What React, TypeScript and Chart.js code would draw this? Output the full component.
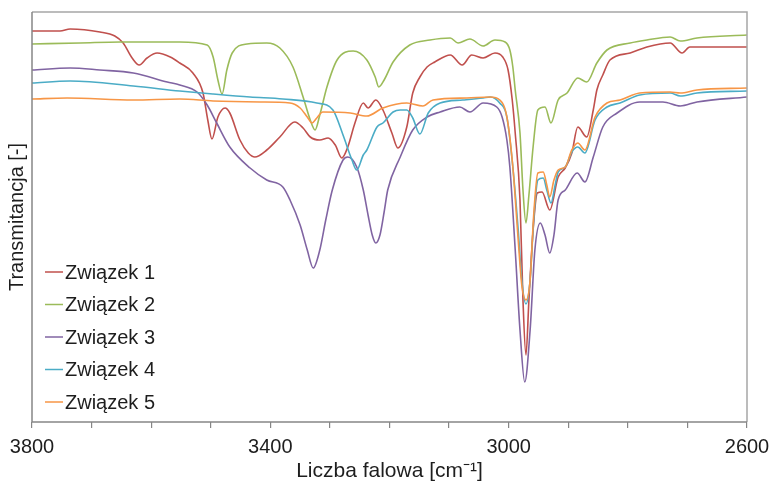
import React, { useEffect, useRef } from "react";
import { Chart, registerables } from "chart.js";

Chart.register(...registerables);

// ---- Data (wavenumber in cm-1, transmittance in arbitrary units) ----
const SERIES_NAMES = ["Związek 1", "Związek 2", "Związek 3", "Związek 4", "Związek 5"];
const SERIES_COLORS = ["#C0504D", "#9BBB59", "#8064A2", "#4BACC6", "#F79646"];

const WN_1 = [3800, 3753, 3736, 3686, 3661, 3647, 3632, 3620, 3607, 3590, 3568, 3552, 3530, 3513, 3505, 3498, 3488, 3476, 3468, 3451, 3437, 3426, 3406, 3384, 3359, 3345, 3333, 3317, 3303, 3291, 3280, 3270, 3258, 3244, 3236, 3223, 3211, 3196, 3186, 3171, 3161, 3149, 3137, 3124, 3098, 3078, 3062, 3043, 3023, 3010, 3001, 2994, 2989, 2981, 2976, 2971, 2966, 2959, 2952, 2944, 2931, 2917, 2905, 2894, 2884, 2869, 2858, 2852, 2842, 2830, 2796, 2768, 2729, 2709, 2696, 2657, 2600];
const T_1 = [391, 391, 393, 390, 386, 379, 364, 357, 364, 369, 365, 359, 349, 329, 302, 283, 305, 314, 309, 282, 269, 265, 272, 285, 300, 294, 285, 282, 284, 277, 264, 275, 299, 319, 314, 322, 312, 289, 274, 295, 329, 345, 355, 360, 367, 357, 367, 364, 369, 365, 352, 322, 289, 222, 122, 67, 122, 192, 229, 230, 212, 245, 254, 269, 295, 285, 312, 332, 347, 362, 369, 375, 379, 369, 375, 375, 375];

const WN_2 = [3800, 3719, 3652, 3552, 3506, 3496, 3488, 3481, 3473, 3464, 3439, 3406, 3384, 3362, 3345, 3333, 3325, 3317, 3305, 3288, 3261, 3238, 3224, 3218, 3209, 3194, 3166, 3132, 3098, 3085, 3065, 3043, 3023, 3006, 2998, 2993, 2989, 2981, 2976, 2971, 2966, 2959, 2951, 2939, 2929, 2917, 2902, 2884, 2869, 2852, 2835, 2796, 2768, 2729, 2712, 2684, 2600];
const T_2 = [378, 379, 380, 380, 377, 365, 342, 328, 352, 369, 378, 379, 374, 355, 325, 302, 292, 307, 335, 362, 371, 362, 345, 335, 342, 360, 377, 382, 384, 379, 383, 376, 382, 380, 372, 355, 332, 289, 232, 199, 227, 275, 312, 315, 299, 322, 329, 344, 340, 359, 372, 379, 382, 385, 381, 384, 387];

const WN_3 = [3800, 3736, 3686, 3630, 3573, 3552, 3523, 3506, 3490, 3468, 3434, 3406, 3379, 3367, 3350, 3338, 3328, 3317, 3307, 3296, 3278, 3270, 3255, 3244, 3236, 3229, 3223, 3216, 3209, 3203, 3182, 3161, 3137, 3115, 3082, 3065, 3043, 3020, 3011, 3003, 2998, 2989, 2981, 2973, 2964, 2956, 2947, 2939, 2931, 2924, 2917, 2905, 2885, 2872, 2858, 2842, 2818, 2780, 2741, 2712, 2684, 2600];
const T_3 = [352, 354, 352, 349, 340, 337, 330, 317, 299, 275, 254, 242, 235, 222, 197, 172, 154, 172, 202, 232, 262, 265, 255, 232, 207, 187, 179, 187, 210, 232, 265, 292, 305, 310, 315, 310, 319, 315, 305, 282, 255, 172, 92, 40, 92, 172, 199, 187, 169, 187, 222, 232, 249, 240, 265, 295, 309, 320, 320, 316, 320, 325];

const WN_4 = [3800, 3736, 3630, 3552, 3496, 3434, 3379, 3322, 3295, 3278, 3263, 3255, 3244, 3238, 3221, 3211, 3194, 3182, 3171, 3161, 3149, 3135, 3115, 3077, 3043, 3031, 3015, 3003, 2993, 2984, 2978, 2971, 2964, 2958, 2951, 2942, 2936, 2929, 2922, 2917, 2905, 2894, 2884, 2872, 2855, 2835, 2813, 2780, 2729, 2712, 2684, 2600];
const T_4 = [339, 341, 336, 331, 328, 325, 323, 319, 312, 287, 262, 252, 267, 272, 295, 299, 310, 312, 312, 304, 288, 309, 319, 322, 324, 325, 319, 305, 255, 192, 142, 118, 142, 202, 242, 244, 232, 219, 237, 250, 255, 270, 275, 269, 302, 315, 319, 327, 329, 326, 329, 331];

const WN_5 = [3800, 3741, 3630, 3552, 3496, 3417, 3367, 3350, 3338, 3330, 3322, 3312, 3266, 3238, 3211, 3171, 3144, 3127, 3070, 3031, 3015, 3003, 2993, 2984, 2978, 2971, 2964, 2958, 2951, 2942, 2936, 2931, 2924, 2917, 2905, 2894, 2884, 2872, 2855, 2835, 2813, 2780, 2729, 2712, 2684, 2600];
const T_5 = [323, 324, 322, 323, 321, 320, 319, 314, 305, 299, 304, 310, 309, 306, 314, 319, 316, 322, 324, 325, 322, 305, 255, 182, 137, 122, 142, 207, 249, 250, 237, 225, 242, 252, 255, 272, 279, 272, 305, 319, 322, 329, 330, 329, 332, 334];

const WAVENUMBERS = [WN_1, WN_2, WN_3, WN_4, WN_5];
const VALUES = [T_1, T_2, T_3, T_4, T_5];

const X_MIN = 2600;
const X_MAX = 3800;
const X_STEP = 100;
const X_LABEL_STEP = 400;
const Y_MIN = 0;
const Y_MAX = 410;

const X_TITLE = "Liczba falowa [cm\u207B\u00B9]";
const Y_TITLE = "Transmitancja [-]";

const FONT = "'Liberation Sans', Arial, sans-serif";
const AXIS_DARK = "#868686";
const AXIS_LIGHT = "#a6a6a6";
const TEXT_COLOR = "#1e1e1e";

const framePlugin = {
  id: "frameAndLegend",
  afterDraw(chart: any) {
    const { ctx, chartArea } = chart;
    const { left, right, top, bottom } = chartArea;
    ctx.save();
    ctx.lineWidth = 1.5;
    ctx.strokeStyle = AXIS_LIGHT;
    ctx.beginPath();
    ctx.moveTo(left, top);
    ctx.lineTo(right, top);
    ctx.lineTo(right, bottom);
    ctx.stroke();
    ctx.strokeStyle = AXIS_DARK;
    ctx.beginPath();
    ctx.moveTo(left, top);
    ctx.lineTo(left, bottom);
    ctx.lineTo(right, bottom);
    ctx.stroke();

    // legend inside plot area, lower left
    ctx.font = `20px ${FONT}`;
    ctx.textBaseline = "middle";
    ctx.textAlign = "left";
    SERIES_NAMES.forEach((name, i) => {
      const y = top + 260 + i * 32.5;
      ctx.strokeStyle = SERIES_COLORS[i];
      ctx.lineWidth = 1.5;
      ctx.beginPath();
      ctx.moveTo(left + 13, y);
      ctx.lineTo(left + 31, y);
      ctx.stroke();
      ctx.fillStyle = TEXT_COLOR;
      ctx.fillText(name, left + 33, y + 1);
    });
    ctx.restore();
  },
};

export default function App() {
  const canvasRef = useRef<HTMLCanvasElement | null>(null);

  useEffect(() => {
    const canvas = canvasRef.current;
    if (!canvas) return;
    const datasets = SERIES_NAMES.map((name, i) => ({
      label: name,
      data: WAVENUMBERS[i].map((x, j) => ({ x, y: VALUES[i][j] })),
      borderColor: SERIES_COLORS[i],
      backgroundColor: SERIES_COLORS[i],
      borderWidth: 1.6,
      pointRadius: 0,
      pointHoverRadius: 0,
      fill: false,
      cubicInterpolationMode: "monotone" as const,
      order: SERIES_NAMES.length - i,
    }));

    const chart = new Chart(canvas, {
      type: "line",
      data: { datasets },
      plugins: [framePlugin],
      options: {
        animation: false,
        responsive: false,
        devicePixelRatio: 1,
        layout: { padding: { left: 0, top: 12, right: 24, bottom: 0 } },
        plugins: {
          legend: { display: false },
          tooltip: { enabled: false },
        },
        scales: {
          x: {
            type: "linear",
            reverse: true,
            min: X_MIN,
            max: X_MAX,
            afterFit: (scale: any) => {
              scale.height = 63;
              scale.paddingLeft = 0;
              scale.paddingRight = 0;
            },
            border: { display: false },
            grid: {
              drawOnChartArea: false,
              drawTicks: true,
              tickLength: 6,
              color: AXIS_DARK,
              lineWidth: 1.2,
            },
            ticks: {
              stepSize: X_STEP,
              autoSkip: false,
              maxRotation: 0,
              padding: 7,
              color: TEXT_COLOR,
              font: { family: FONT, size: 20 },
              callback: (value: any) =>
                (X_MAX - Number(value)) % X_LABEL_STEP === 0 ? String(value) : "",
            },
            title: {
              display: true,
              text: X_TITLE,
              color: TEXT_COLOR,
              font: { family: FONT, size: 21 },
              padding: { top: 0, bottom: 1 },
            },
          },
          y: {
            type: "linear",
            min: Y_MIN,
            max: Y_MAX,
            afterFit: (scale: any) => {
              scale.width = 32;
              scale.paddingTop = 0;
              scale.paddingBottom = 0;
            },
            border: { display: false },
            grid: { display: false },
            ticks: { display: false },
            title: {
              display: true,
              text: Y_TITLE,
              color: TEXT_COLOR,
              font: { family: FONT, size: 20 },
              padding: { top: 5, bottom: 0 },
            },
          },
        },
      },
    });
    return () => chart.destroy();
  }, []);

  return (
    <div
      style={{
        position: "fixed",
        left: 0,
        top: 0,
        width: 771,
        height: 485,
        background: "#ffffff",
      }}
    >
      <canvas ref={canvasRef} width={771} height={485} style={{ display: "block" }} />
    </div>
  );
}
